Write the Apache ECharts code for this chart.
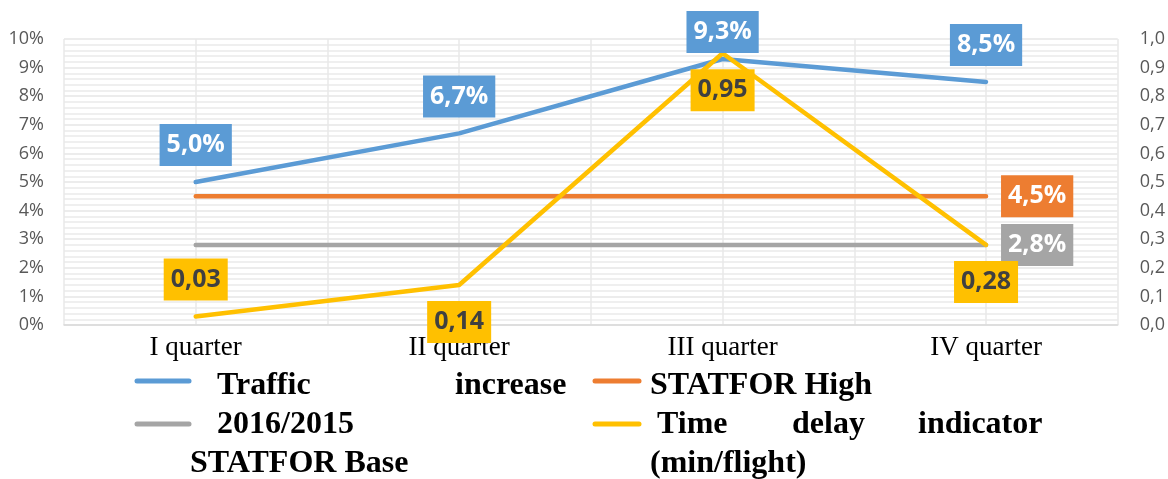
<!DOCTYPE html>
<html>
<head>
<meta charset="utf-8">
<title>Traffic increase vs delay</title>
<script src="https://cdn.jsdelivr.net/npm/echarts@6/dist/echarts.min.js"></script>
<style>
  html, body { margin: 0; padding: 0; background: #fff; }
  #chart { width: 1168px; height: 479px; }
</style>
</head>
<body>
<div id="chart"></div>
<script>
// data
const quarters = ['I quarter', 'II quarter', 'III quarter', 'IV quarter'];
const trafficIncrease = [5.0, 6.7, 9.3, 8.5];     // %
const statforHigh = [4.5, 4.5, 4.5, 4.5];         // %
const statforBase = [2.8, 2.8, 2.8, 2.8];         // %
const delayIndicator = [0.03, 0.14, 0.95, 0.28];  // min/flight
const seriesNames = ['Traffic increase 2016/2015', 'STATFOR High', 'STATFOR Base', 'Time delay indicator (min/flight)'];

const BLUE = '#5B9BD5', ORANGE = '#ED7D31', GRAY = '#A5A5A5', YELLOW = '#FFC000';
const comma = (v, d) => Number(v).toFixed(d).replace('.', ',');

const boxLabel = (bg, fg) => ({
  show: true,
  backgroundColor: bg,
  color: fg,
  fontFamily: '"Open Sans", sans-serif',
  fontWeight: 'bold',
  fontSize: 25,
  lineHeight: 26,
  padding: [8, 7, 8, 7]
});

const chart = echarts.init(document.getElementById('chart'), null, { renderer: 'canvas' });

const legendLine = (x1, x2, y, color) => ({
  type: 'line',
  shape: { x1: x1, y1: y, x2: x2, y2: y },
  style: { stroke: color, lineWidth: 5, lineCap: 'round' }
});
const legendText = (text, x, y) => ({
  type: 'text',
  x: x, y: y,
  style: {
    text: text,
    fill: '#000',
    font: 'bold 32px "Liberation Serif", "Times New Roman", serif',
    verticalAlign: 'middle'
  }
});

chart.setOption({
  animation: false,
  grid: { left: 64, right: 50, top: 39, bottom: 154 },
  xAxis: [
    {
      type: 'category',
      data: quarters,
      boundaryGap: true,
      axisLine: { lineStyle: { color: '#D9D9D9', width: 1.5 } },
      axisTick: { show: false },
      splitLine: { show: false },
      axisLabel: {
        color: '#000',
        fontFamily: '"Liberation Serif", "Times New Roman", serif',
        fontSize: 27,
        margin: 9
      }
    },
    {
      // half-category vertical gridlines
      type: 'value',
      min: 0, max: 8, interval: 1,
      position: 'top',
      axisLine: { show: false },
      axisTick: { show: false },
      axisLabel: { show: false },
      splitLine: { show: true, lineStyle: { color: '#E8E8E8', width: 1.5 } }
    }
  ],
  yAxis: [
    {
      type: 'value',
      min: 0, max: 10, interval: 1,
      axisLine: { show: false },
      axisTick: { show: false },
      axisLabel: {
        color: '#595959',
        fontFamily: '"Open Sans", sans-serif',
        fontSize: 18,
        margin: 20,
        formatter: '{value}%'
      },
      splitLine: { lineStyle: { color: '#E6E6E6', width: 1.5 } },
      minorTick: { show: false, splitNumber: 5 },
      minorSplitLine: { show: true, lineStyle: { color: '#EFEFEF', width: 2 } }
    },
    {
      type: 'value',
      min: 0, max: 1, interval: 0.1,
      axisLine: { show: false },
      axisTick: { show: false },
      splitLine: { show: false },
      axisLabel: {
        color: '#595959',
        fontFamily: '"Open Sans", sans-serif',
        fontSize: 18,
        margin: 22,
        formatter: v => comma(v, 1)
      }
    }
  ],
  series: [
    {
      name: seriesNames[1],
      type: 'line',
      data: statforHigh.map((v, i) => ({
        value: v,
        label: Object.assign(boxLabel(ORANGE, '#fff'), {
          show: i === 3, position: 'right', distance: 14,
          formatter: p => comma(p.value, 1) + '%'
        })
      })),
      symbol: 'circle', symbolSize: 2,
      lineStyle: { color: ORANGE, width: 4.5, cap: 'round' },
      itemStyle: { color: ORANGE }
    },
    {
      name: seriesNames[2],
      type: 'line',
      data: statforBase.map((v, i) => ({
        value: v,
        label: Object.assign(boxLabel(GRAY, '#fff'), {
          show: i === 3, position: 'right', distance: 14,
          formatter: p => comma(p.value, 1) + '%'
        })
      })),
      symbol: 'circle', symbolSize: 2,
      lineStyle: { color: GRAY, width: 4.5, cap: 'round' },
      itemStyle: { color: GRAY }
    },
    {
      name: seriesNames[0],
      type: 'line',
      data: trafficIncrease.map((v, i) => ({
        value: v,
        label: Object.assign(boxLabel(BLUE, '#fff'), {
          position: 'top', distance: i === 2 ? 5 : 15,
          formatter: p => comma(p.value, 1) + '%'
        })
      })),
      symbol: 'circle', symbolSize: 2,
      lineStyle: { color: BLUE, width: 4.5, cap: 'round' },
      itemStyle: { color: BLUE }
    },
    {
      name: seriesNames[3],
      type: 'line',
      yAxisIndex: 1,
      data: delayIndicator.map((v, i) => ({
        value: v,
        label: Object.assign(boxLabel(YELLOW, '#404040'), {
          position: i === 0 ? 'top' : 'bottom', distance: 15,
          formatter: p => comma(p.value, 2)
        })
      })),
      symbol: 'circle', symbolSize: 2,
      lineStyle: { color: YELLOW, width: 4.5, cap: 'round' },
      itemStyle: { color: YELLOW }
    }
  ],
  graphic: [
    legendLine(137, 189, 381, BLUE),
    legendLine(595, 639, 381, ORANGE),
    legendLine(137, 189, 424, GRAY),
    legendLine(595, 639, 424, YELLOW),
    legendText('Traffic', 217, 386),
    legendText('increase', 455, 386),
    legendText('STATFOR High', 650, 386),
    legendText('2016/2015', 217, 425),
    legendText('Time', 657, 425),
    legendText('delay', 792, 425),
    legendText('indicator', 918, 425),
    legendText('STATFOR Base', 190, 464),
    legendText('(min/flight)', 650, 464)
  ]
});
</script>
</body>
</html>
